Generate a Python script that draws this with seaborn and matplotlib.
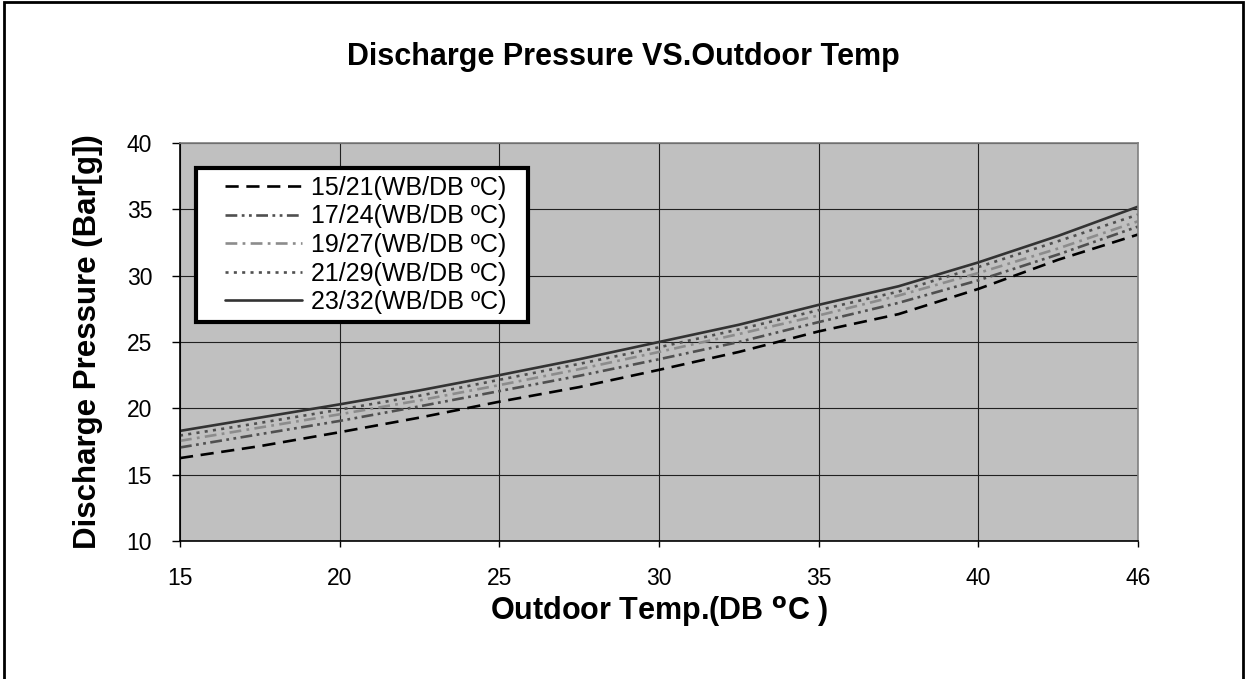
import numpy as np
import pandas as pd
import matplotlib
matplotlib.use("Agg")
import matplotlib.pyplot as plt
from matplotlib.patches import Rectangle
from matplotlib.legend_handler import HandlerLine2D
import seaborn as sns

# Outdoor dry-bulb temperatures (°C) at which discharge pressure was read
temps = [15, 17.5, 20, 22.5, 25, 27.5, 30, 32.5, 35, 37.5, 40, 43, 46]
tick_temps = [15, 20, 25, 30, 35, 40, 46]

# Indoor conditions (WB/DB °C)
series = ["15/21(WB/DB ºC)", "17/24(WB/DB ºC)", "19/27(WB/DB ºC)",
          "21/29(WB/DB ºC)", "23/32(WB/DB ºC)"]

# Discharge pressure, Bar[g]
p_15_21 = [16.25, 17.15, 18.2, 19.3, 20.5, 21.6, 22.9, 24.25, 25.8, 27.1, 29.0, 31.2, 33.1]
p_17_24 = [17.05, 18.05, 19.05, 20.15, 21.3, 22.45, 23.7, 25.0, 26.5, 27.95, 29.65, 31.6, 33.7]
p_19_27 = [17.55, 18.55, 19.55, 20.6, 21.75, 22.95, 24.25, 25.6, 27.0, 28.5, 30.2, 32.05, 34.1]
p_21_29 = [17.95, 18.9, 19.9, 20.95, 22.15, 23.35, 24.6, 25.95, 27.4, 28.8, 30.65, 32.6, 34.6]
p_23_32 = [18.3, 19.3, 20.3, 21.35, 22.5, 23.7, 25.0, 26.3, 27.8, 29.2, 31.0, 33.0, 35.2]

values = [p_15_21, p_17_24, p_19_27, p_21_29, p_23_32]

sns.set_style("white")
plt.rcParams["font.family"] = ["Liberation Sans", "DejaVu Sans"]
plt.rcParams["lines.scale_dashes"] = False
plt.rcParams["text.color"] = "black"
plt.rcParams["axes.labelcolor"] = "black"
plt.rcParams["xtick.color"] = "black"
plt.rcParams["ytick.color"] = "black"

# The temperature axis is a category axis: equal spacing between labelled temperatures
pos = np.interp(temps, tick_temps, np.arange(len(tick_temps)))

df = pd.concat([
    pd.DataFrame({"pos": pos, "pressure": v, "cond": name})
    for name, v in zip(series, values)
], ignore_index=True)

colors = ["#000000", "#505050", "#8c8c8c", "#505050", "#333333"]
dashes = [(9.5, 5.5), (8.5, 3.2, 2.0, 3.2, 2.0, 3.2), (8.5, 3.8, 2.0, 3.8),
          (2.2, 3.8), ""]

fig = plt.figure(figsize=(12.47, 6.79), dpi=100)
ax = fig.add_axes([180 / 1247, 1 - 541 / 679, (1138 - 180) / 1247, (541 - 143) / 679])
ax.set_facecolor("#c0c0c0")

sns.lineplot(data=df, x="pos", y="pressure", hue="cond", style="cond",
             hue_order=series, style_order=series,
             palette=dict(zip(series, colors)), dashes=dict(zip(series, dashes)),
             linewidth=1.9, sort=False, errorbar=None, legend=False, ax=ax)

ax.set_xlim(0, len(tick_temps) - 1)
ax.set_ylim(10, 40)
ax.set_xticks(np.arange(len(tick_temps)))
ax.set_xticklabels([str(t) for t in tick_temps])
ax.set_yticks(np.arange(10, 41, 5))
ax.grid(True, color="#202020", linewidth=0.8)
ax.set_axisbelow(True)

for side in ("left", "bottom"):
    ax.spines[side].set_color("black")
    ax.spines[side].set_linewidth(1.2)
for side in ("top", "right"):
    ax.spines[side].set_color("#808080")
    ax.spines[side].set_linewidth(1.2)

ax.tick_params(axis="y", direction="out", length=6, width=1, pad=14,
               labelsize=16.5, color="black", labelcolor="black", left=True)
ax.tick_params(axis="x", direction="out", length=4.5, width=1, pad=14,
               labelsize=16.5, color="black", labelcolor="black", bottom=True)

ax.set_xlabel("Outdoor Temp.(DB $\\mathbf{^{o}}$C )", fontsize=22, fontweight="bold",
              labelpad=3, color="black")
ax.set_ylabel("Discharge Pressure (Bar[g])", fontsize=22.5, fontweight="bold",
              labelpad=17, color="black")
fig.text(623 / 1247, 1 - 57 / 679, "Discharge Pressure VS.Outdoor Temp",
         ha="center", va="center", fontsize=22, fontweight="bold", color="black")

handles = ax.get_lines()[:len(series)]
fs = 18
leg = ax.legend(handles, series, loc="upper left", mode="expand",
                bbox_to_anchor=((196 - 180) / 958, (541 - 168) / 398 - 0.4,
                                (528 - 196) / 958, 0.4),
                fontsize=fs, frameon=True, fancybox=False, framealpha=1,
                edgecolor="black", handlelength=3.92, handletextpad=0.36,
                labelspacing=0.18, borderpad=0.32, borderaxespad=0,
                labelcolor="black",
                handler_map={h: HandlerLine2D(xpad=0.84) for h in handles})
leg.get_frame().set_linewidth(3)

fig.add_artist(Rectangle((4 / 1247, -0.05), 1239 / 1247, 1.05 - 1.5 / 679,
                         transform=fig.transFigure, fill=False,
                         edgecolor="black", linewidth=2))

fig.savefig("out.png", dpi=100)
